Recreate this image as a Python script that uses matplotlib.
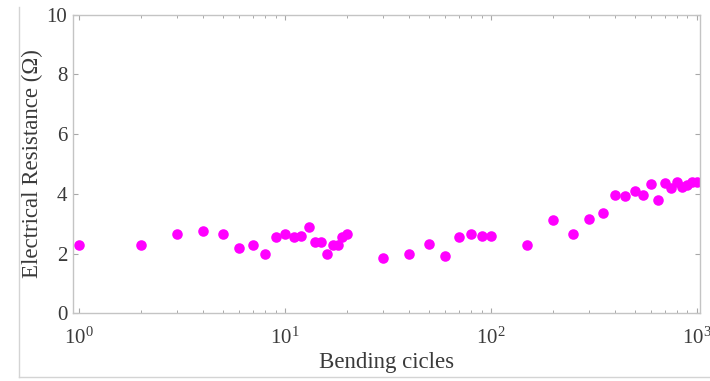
import matplotlib
matplotlib.use("Agg")
import matplotlib.pyplot as plt
from matplotlib.lines import Line2D
from matplotlib.ticker import LogLocator, FixedLocator, NullFormatter

plt.rcParams['font.family'] = ['Liberation Serif', 'DejaVu Serif']
plt.rcParams['mathtext.fontset'] = 'custom'
plt.rcParams['mathtext.rm'] = 'Liberation Serif'
plt.rcParams['mathtext.it'] = 'Liberation Serif:italic'

# Bending test: number of cycles vs. measured resistance
cycles = [1, 2, 3, 4, 5, 6, 7, 8, 9, 10, 11, 12, 13, 14, 15, 16, 17, 18, 19, 20,
          30, 40, 50, 60, 70, 80, 90, 100,
          150, 200, 250, 300, 350, 400, 450, 500, 550, 600, 650, 700,
          750, 800, 850, 900, 950, 1000]
resistance = [2.30, 2.30, 2.64, 2.75, 2.64, 2.20, 2.30, 1.98, 2.56, 2.65,
              2.56, 2.60, 2.89, 2.37, 2.39, 2.00, 2.28, 2.30, 2.54, 2.67,
              1.85, 2.00, 2.31, 1.91, 2.56, 2.64, 2.58, 2.60,
              2.28, 3.12, 2.67, 3.16, 3.36, 3.96, 3.92, 4.10, 3.96, 4.32,
              3.79, 4.37, 4.18, 4.39, 4.23, 4.30, 4.40, 4.38]
y_ticks = [0, 2, 4, 6, 8, 10]

W, H = 710, 381
fig = plt.figure(figsize=(W / 100, H / 100), dpi=100)
ax = fig.add_axes([72.7 / W, 1 - 313.3 / H, (700 - 72.7) / W, (313.3 - 14.5) / H])

ax.plot(cycles, resistance, linestyle='none', marker='o', markersize=7.6,
        color='#ff00ff', markeredgewidth=0)

ax.set_xscale('log')
ax.set_xlim(0.929, 1037)
ax.set_ylim(0, 10)
ax.yaxis.set_major_locator(FixedLocator(y_ticks))
ax.xaxis.set_major_locator(LogLocator(base=10, numticks=10))
ax.xaxis.set_minor_locator(LogLocator(base=10, subs=range(2, 10), numticks=20))
ax.xaxis.set_minor_formatter(NullFormatter())

spine_col = '#c4c4c4'
text_col = '#3a3a3a'
for s in ax.spines.values():
    s.set_color(spine_col)
    s.set_linewidth(1.0)
ax.tick_params(which='both', direction='in', top=True, right=True,
               color='#a8a8a8', labelcolor=text_col, labelsize=15)
ax.tick_params(which='major', length=3.5, width=0.8)
ax.tick_params(which='minor', length=2.2, width=0.7)
ax.tick_params(axis='x', which='major', pad=10.5)
ax.tick_params(axis='y', which='major', pad=4)

ax.set_xlabel('Bending cicles', fontsize=16.5, color=text_col)
ax.set_ylabel('Electrical Resistance (\u03a9)', fontsize=16.5, color=text_col)
ax.xaxis.set_label_coords(0.5, -0.13)
ax.yaxis.set_label_coords(-0.047, 0.5)

# light frame along the left and bottom edges
frame_col = '#d4d4d4'
fig.add_artist(Line2D([18.5 / W, 18.5 / W], [1 - 7 / H, 1 - 377 / H],
                      transform=fig.transFigure, color=frame_col, linewidth=1.0))
fig.add_artist(Line2D([18.5 / W, 1.0], [1 - 377 / H, 1 - 377 / H],
                      transform=fig.transFigure, color=frame_col, linewidth=1.0))

fig.savefig('out.png', dpi=100, facecolor='white')
